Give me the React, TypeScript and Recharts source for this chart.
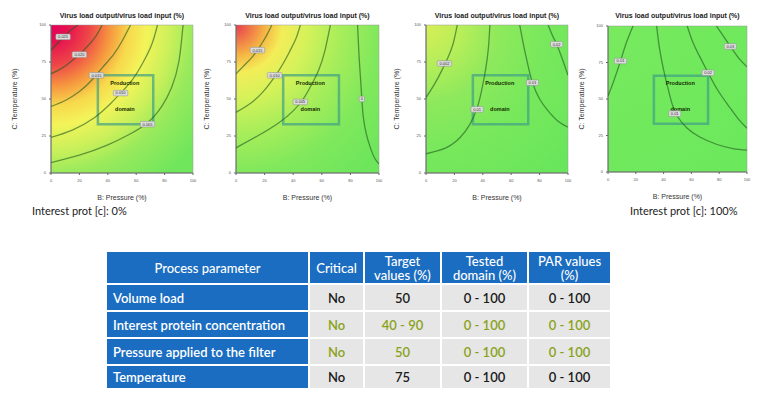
import { ReferenceArea, Scatter, ScatterChart, XAxis, YAxis } from 'recharts'

type Pt = { x: number; y: number }
type Tag = { x: number; y: number; text: string }

const X_TICKS = [0, 20, 40, 60, 80, 100]
const Y_TICKS = [0, 25, 50, 75, 100]

// production domain (pressure x temperature)
const DOMAIN_X = [33, 72]
const DOMAIN_Y = [33, 66]
const DOMAIN_TEXT: Tag[] = [
  { x: 52, y: 61, text: 'Production' },
  { x: 52, y: 43, text: 'domain' }
]

// contour lines
const P1_CONTOURS: Pt[][] = [
  [{ x: 0, y: 83 }, { x: 6, y: 89 }, { x: 12, y: 95 }, { x: 19, y: 100 }],
  [{ x: 0, y: 67 }, { x: 8, y: 71 }, { x: 15, y: 76 }, { x: 21, y: 81 }, { x: 27, y: 87 }, { x: 32, y: 93 }, { x: 36, y: 100 }],
  [{ x: 0, y: 45 }, { x: 10, y: 49 }, { x: 20, y: 55 }, { x: 29, y: 63 }, { x: 36, y: 71 }, { x: 44, y: 80 }, { x: 50, y: 89 }, { x: 56, y: 100 }],
  [{ x: 0, y: 24 }, { x: 15, y: 29 }, { x: 30, y: 37 }, { x: 42, y: 47 }, { x: 50, y: 55 }, { x: 58, y: 64 }, { x: 65, y: 75 }, { x: 71, y: 87 }, { x: 75, y: 100 }],
  [{ x: 0, y: 7 }, { x: 20, y: 12 }, { x: 40, y: 19 }, { x: 55, y: 26 }, { x: 68, y: 34 }, { x: 78, y: 45 }, { x: 85, y: 58 }, { x: 90, y: 75 }, { x: 93, y: 100 }]
]
const P1_TAGS: Tag[] = [
  { x: 8.5, y: 92, text: '0.025' },
  { x: 20, y: 80, text: '0.020' },
  { x: 32, y: 66, text: '0.015' },
  { x: 49, y: 54, text: '0.010' },
  { x: 68, y: 33, text: '0.005' }
]

const P2_CONTOURS: Pt[][] = [
  [{ x: 0, y: 67 }, { x: 6, y: 73 }, { x: 11, y: 78 }, { x: 15, y: 83 }, { x: 19, y: 89 }, { x: 22, y: 94 }, { x: 25, y: 100 }],
  [{ x: 0, y: 41 }, { x: 10, y: 47 }, { x: 19, y: 55 }, { x: 27, y: 65 }, { x: 33, y: 74 }, { x: 38, y: 83 }, { x: 42, y: 91 }, { x: 45, y: 100 }],
  [{ x: 0, y: 17 }, { x: 15, y: 25 }, { x: 30, y: 34 }, { x: 40, y: 42 }, { x: 47, y: 50 }, { x: 53, y: 60 }, { x: 58, y: 70 }, { x: 62, y: 82 }, { x: 66, y: 100 }],
  [{ x: 85, y: 100 }, { x: 86, y: 80 }, { x: 87, y: 65 }, { x: 88, y: 50 }, { x: 89, y: 38 }, { x: 91, y: 27 }, { x: 94, y: 17 }, { x: 97, y: 10 }, { x: 100, y: 6 }]
]
const P2_TAGS: Tag[] = [
  { x: 15, y: 83, text: '0.015' },
  { x: 27, y: 66, text: '0.010' },
  { x: 45, y: 48, text: '0.005' },
  { x: 88, y: 50, text: '0' }
]

const P3_CONTOURS: Pt[][] = [
  [{ x: 0, y: 51 }, { x: 6, y: 60 }, { x: 11, y: 69 }, { x: 15, y: 77 }, { x: 19, y: 87 }, { x: 22, y: 100 }],
  [{ x: 45, y: 100 }, { x: 44, y: 85 }, { x: 42, y: 70 }, { x: 39, y: 55 }, { x: 36, y: 44 }, { x: 31, y: 33 }, { x: 24, y: 24 }, { x: 14, y: 17 }, { x: 0, y: 13 }],
  [{ x: 66, y: 100 }, { x: 69, y: 85 }, { x: 72, y: 72 }, { x: 75, y: 61 }, { x: 80, y: 50 }, { x: 86, y: 42 }, { x: 93, y: 35 }, { x: 100, y: 31 }],
  [{ x: 86, y: 100 }, { x: 89, y: 93 }, { x: 92, y: 87 }, { x: 96, y: 77 }, { x: 100, y: 66 }]
]
const P3_TAGS: Tag[] = [
  { x: 13, y: 74, text: '0.002' },
  { x: 36, y: 43, text: '0.01' },
  { x: 75, y: 61, text: '0.01' },
  { x: 92, y: 87, text: '0.02' }
]

const P4_CONTOURS: Pt[][] = [
  [{ x: 0, y: 52 }, { x: 4, y: 62 }, { x: 9, y: 76 }, { x: 13, y: 88 }, { x: 18, y: 100 }],
  [{ x: 35, y: 100 }, { x: 37, y: 85 }, { x: 40, y: 70 }, { x: 43, y: 58 }, { x: 46, y: 47 }, { x: 50, y: 38 }, { x: 57, y: 30 }, { x: 66, y: 24 }, { x: 78, y: 19 }, { x: 90, y: 16 }, { x: 100, y: 15 }],
  [{ x: 57, y: 100 }, { x: 61, y: 89 }, { x: 66, y: 79 }, { x: 72, y: 68 }, { x: 79, y: 56 }, { x: 87, y: 45 }, { x: 94, y: 36 }, { x: 100, y: 30 }],
  [{ x: 78, y: 100 }, { x: 83, y: 93 }, { x: 88, y: 86 }, { x: 94, y: 78 }, { x: 100, y: 72 }]
]
const P4_TAGS: Tag[] = [
  { x: 9, y: 76, text: '0.01' },
  { x: 48, y: 40, text: '0.01' },
  { x: 72, y: 68, text: '0.02' },
  { x: 88, y: 86, text: '0.03' }
]

// table
const HEADERS = ['Process parameter', 'Critical', 'Target\nvalues (%)', 'Tested\ndomain (%)', 'PAR values\n(%)']
const PARAMETERS = ['Volume load', 'Interest protein concentration', 'Pressure applied to the filter', 'Temperature']
const CRITICAL = ['No', 'No', 'No', 'No']
const TARGET = ['50', '40 - 90', '50', '75']
const TESTED = ['0 - 100', '0 - 100', '0 - 100', '0 - 100']
const PAR = ['0 - 100', '0 - 100', '0 - 100', '0 - 100']
const GREEN_ROWS = [1, 2]

// colour ramps (radial, from the top-left corner of each plot)
const RAMP_1: [number, string][] = [
  [0, '#e2005c'], [0.09, '#e6104f'], [0.21, '#ee4648'], [0.32, '#f6963f'],
  [0.42, '#f7d84c'], [0.52, '#f3f45a'], [0.65, '#caf05a'], [0.77, '#9aea5c'], [1, '#6fe65c']
]
const RAMP_2: [number, string][] = [
  [0, '#e63a52'], [0.08, '#ef7848'], [0.16, '#f6b644'], [0.25, '#f3ed58'],
  [0.38, '#d6f25a'], [0.54, '#acee5a'], [0.77, '#80e85c'], [1, '#6ee65c']
]
const RAMP_3: [number, string][] = [
  [0, '#d8ee55'], [0.2, '#b6ee5a'], [0.4, '#8ee95c'], [0.65, '#78e85c'], [1, '#6ae65c']
]
const RAMP_4: [number, string][] = [[0, '#78ea5e'], [1, '#6ce85c']]

function ContourTag(props: any) {
  const { cx, cy, payload } = props
  const w = payload.text.length * 2.3 + 3
  return (
    <g>
      <rect x={cx - w / 2} y={cy - 2.8} width={w} height={5.6} rx={1} fill="#dcdcdc" stroke="#8c8c8c" strokeWidth={0.5} />
      <text x={cx} y={cy + 1.4} textAnchor="middle" fontSize={4} fill="#333">{payload.text}</text>
    </g>
  )
}

function DomainText(props: any) {
  const { cx, cy, payload } = props
  return (
    <text x={cx} y={cy + 2} textAnchor="middle" fontSize={5.5} fontWeight="bold" fill="#142a00">
      {payload.text}
    </text>
  )
}

type PanelProps = {
  id: string
  plotLeft: number
  plotRight: number
  plotTop: number
  plotBottom: number
  yLabelX: number
  contours: Pt[][]
  tags: Tag[]
  ramp: [number, string][]
}

function Panel({ id, plotLeft, plotRight, plotTop, plotBottom, yLabelX, contours, tags, ramp }: PanelProps) {
  const chartLeft = plotLeft - 45
  const width = plotRight - chartLeft + 4
  const height = plotBottom + 32
  const tickStyle = { fontSize: 4, fill: '#555' }
  return (
    <>
      <div
        style={{
          position: 'absolute',
          left: plotLeft - 20,
          width: plotRight - plotLeft + 40,
          top: 12,
          textAlign: 'center',
          fontSize: 7,
          fontWeight: 600,
          color: '#222',
          whiteSpace: 'nowrap'
        }}
      >
        Virus load output/virus load input (%)
      </div>
      <div style={{ position: 'absolute', left: chartLeft, top: 0 }}>
        <ScatterChart width={width} height={height} margin={{ top: plotTop, right: 4, bottom: 0, left: 0 }}>
          <defs>
            <radialGradient id={id} cx="0" cy="0" r="1.3" fx="0" fy="0">
              {ramp.map(([o, c]) => (
                <stop key={o} offset={o} stopColor={c} />
              ))}
            </radialGradient>
          </defs>
          <XAxis
            type="number"
            dataKey="x"
            domain={[0, 100]}
            ticks={X_TICKS}
            allowDataOverflow
            height={32}
            tickSize={2}
            tickMargin={4}
            tick={tickStyle}
            stroke="#666"
            label={{ value: 'B: Pressure (%)', position: 'insideBottom', offset: 5, style: { fontSize: 7, fill: '#333' } }}
          />
          <YAxis
            type="number"
            dataKey="y"
            domain={[0, 100]}
            ticks={Y_TICKS}
            allowDataOverflow
            width={45}
            tickSize={2}
            tickMargin={3}
            tick={tickStyle}
            stroke="#666"
            label={{
              value: 'C: Temperature (%)',
              angle: -90,
              position: 'insideLeft',
              offset: yLabelX,
              style: { fontSize: 7, fill: '#333', textAnchor: 'middle' }
            }}
          />
          <ReferenceArea x1={0} x2={100} y1={0} y2={100} fill={`url(#${id})`} fillOpacity={1} stroke="#9a9a9a" strokeWidth={0.5} />
          {contours.map((pts, i) => (
            <Scatter
              key={i}
              data={pts}
              fill="#1f5a1f"
              line={{ stroke: '#1f5a1f', strokeWidth: 1.3, strokeOpacity: 0.6 }}
              lineJointType="natural"
              shape={() => <g />}
              isAnimationActive={false}
            />
          ))}
          <ReferenceArea
            x1={DOMAIN_X[0]}
            x2={DOMAIN_X[1]}
            y1={DOMAIN_Y[0]}
            y2={DOMAIN_Y[1]}
            fill="none"
            stroke="#40a086"
            strokeWidth={2.5}
            strokeOpacity={0.7}
          />
          <Scatter data={DOMAIN_TEXT} shape={DomainText} isAnimationActive={false} />
          <Scatter data={tags} shape={ContourTag} isAnimationActive={false} />
        </ScatterChart>
      </div>
    </>
  )
}

export default function App() {
  const cell = { border: '2px solid #fff', padding: 0, height: 25 }
  return (
    <div
      style={{
        position: 'absolute',
        left: 0,
        top: 0,
        width: 760,
        height: 394,
        background: '#fff',
        fontFamily: '"Liberation Sans", Arial, sans-serif',
        overflow: 'hidden'
      }}
    >
      <Panel id="g1" plotLeft={51} plotRight={193} plotTop={25} plotBottom={173} yLabelX={9} contours={P1_CONTOURS} tags={P1_TAGS} ramp={RAMP_1} />
      <Panel id="g2" plotLeft={236} plotRight={379} plotTop={25} plotBottom={173} yLabelX={16} contours={P2_CONTOURS} tags={P2_TAGS} ramp={RAMP_2} />
      <Panel id="g3" plotLeft={426} plotRight={568} plotTop={25} plotBottom={173} yLabelX={16} contours={P3_CONTOURS} tags={P3_TAGS} ramp={RAMP_3} />
      <Panel id="g4" plotLeft={608} plotRight={747} plotTop={26} plotBottom={172} yLabelX={19} contours={P4_CONTOURS} tags={P4_TAGS} ramp={RAMP_4} />

      <div style={{ position: 'absolute', left: 32, top: 204, fontFamily: 'Lato, sans-serif', fontSize: 11, color: '#222' }}>
        Interest prot [c]: 0%
      </div>
      <div style={{ position: 'absolute', left: 630, top: 204, fontFamily: 'Lato, sans-serif', fontSize: 11, color: '#222' }}>
        Interest prot [c]: 100%
      </div>

      <table
        style={{
          position: 'absolute',
          left: 105,
          top: 250,
          width: 505,
          borderCollapse: 'collapse',
          tableLayout: 'fixed',
          fontFamily: 'Lato, sans-serif',
          fontSize: 13,
          fontWeight: 600
        }}
      >
        <colgroup>
          <col style={{ width: 203 }} />
          <col style={{ width: 55 }} />
          <col style={{ width: 77 }} />
          <col style={{ width: 87 }} />
          <col style={{ width: 83 }} />
        </colgroup>
        <thead>
          <tr>
            {HEADERS.map((h) => (
              <th
                key={h}
                style={{
                  ...cell,
                  height: 31,
                  background: '#1b6dc1',
                  color: '#fff',
                  fontWeight: 500,
                  lineHeight: '14px',
                  whiteSpace: 'pre-line',
                  textAlign: 'center'
                }}
              >
                {h}
              </th>
            ))}
          </tr>
        </thead>
        <tbody>
          {PARAMETERS.map((p, i) => {
            const color = GREEN_ROWS.includes(i) ? '#8aa21a' : '#1a1a1a'
            const values = [CRITICAL[i], TARGET[i], TESTED[i], PAR[i]]
            return (
              <tr key={p}>
                <td style={{ ...cell, height: i === 3 ? 22 : 25, background: '#1b6dc1', color: '#fff', paddingLeft: 6 }}>{p}</td>
                {values.map((v, j) => (
                  <td key={j} style={{ ...cell, height: i === 3 ? 22 : 25, background: '#e6e6e6', color, textAlign: 'center' }}>
                    {v}
                  </td>
                ))}
              </tr>
            )
          })}
        </tbody>
      </table>
    </div>
  )
}
